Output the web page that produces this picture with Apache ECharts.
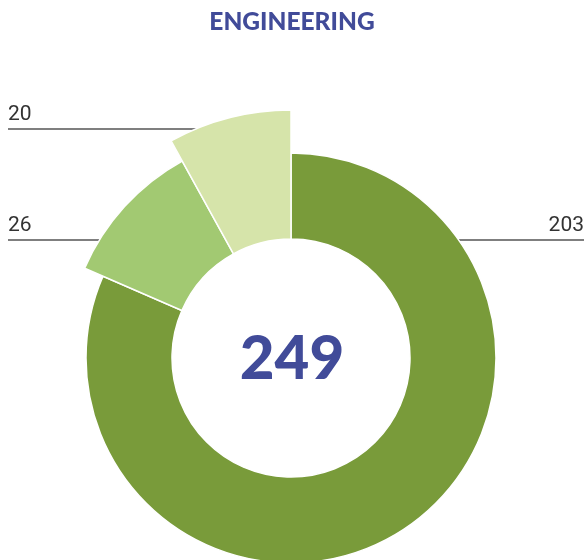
<!DOCTYPE html>
<html>
<head>
<meta charset="utf-8">
<style>
  html, body { margin: 0; padding: 0; background: #fff; }
  #main { width: 584px; height: 560px; }
</style>
<script src="https://cdn.jsdelivr.net/npm/echarts@6/dist/echarts.min.js"></script>
</head>
<body>
<div id="main"></div>
<script>
// data
var title = 'ENGINEERING'
var categories = ['A', 'B', 'C']
var values = [203, 26, 20]
var colors = ['#799b3a', '#a2c972', '#d6e4aa']

// layout
var cx = 291, cy = 358
var innerR = 119
var outerR = [205, 225, 248]
var lineY = [240, 240, 129]   // leader line height for each slice
var W = 584

var total = values.reduce(function (a, b) { return a + b }, 0)
var myChart = echarts.init(document.getElementById('main'))

function makeSeries(k) {
  return {
    type: 'pie',
    center: [cx, cy],
    radius: [innerR, outerR[k]],
    startAngle: 90,
    clockwise: true,
    silent: true,
    animation: false,
    z: 2 + k,
    label: {
      show: true,
      color: '#333',
      fontSize: 21,
      fontFamily: 'Roboto',
      fontWeight: 'normal',
      formatter: '{c}'
    },
    labelLine: {
      show: true,
      lineStyle: { color: '#555', width: 1.3 }
    },
    labelLayout: function (params) {
      var i = params.dataIndex
      var y = lineY[i]
      var left = i !== 0
      var dy = y - cy
      var dx = Math.sqrt(Math.max(outerR[i] * outerR[i] - dy * dy, 0))
      var edgeX = left ? cx - dx : cx + dx
      var endX = left ? 8 : W
      return {
        x: endX,
        y: y - 4,
        align: left ? 'left' : 'right',
        verticalAlign: 'bottom',
        labelLinePoints: [[edgeX, y], [edgeX, y], [endX, y]]
      }
    },
    data: values.map(function (v, i) {
      if (i === k) {
        return {
          name: categories[i],
          value: v,
          itemStyle: { color: colors[i], borderColor: '#fff', borderWidth: 1.5 }
        }
      }
      return {
        name: categories[i],
        value: v,
        itemStyle: { color: 'rgba(0,0,0,0)', borderWidth: 0 },
        label: { show: false },
        labelLine: { show: false }
      }
    })
  }
}

var option = {
  backgroundColor: '#fff',
  title: {
    text: title,
    left: 'center',
    top: 5,
    textStyle: { fontSize: 24.5, fontWeight: 900, color: '#414b99', fontFamily: 'Lato' }
  },
  graphic: [{
    type: 'text',
    left: 'center',
    top: cy - 28,
    style: {
      text: String(total),
      fontSize: 60,
      fontWeight: 900,
      fontFamily: 'Lato',
      fill: '#414b99'
    }
  }],
  series: [makeSeries(0), makeSeries(1), makeSeries(2)]
}
myChart.setOption(option)
</script>
</body>
</html>
